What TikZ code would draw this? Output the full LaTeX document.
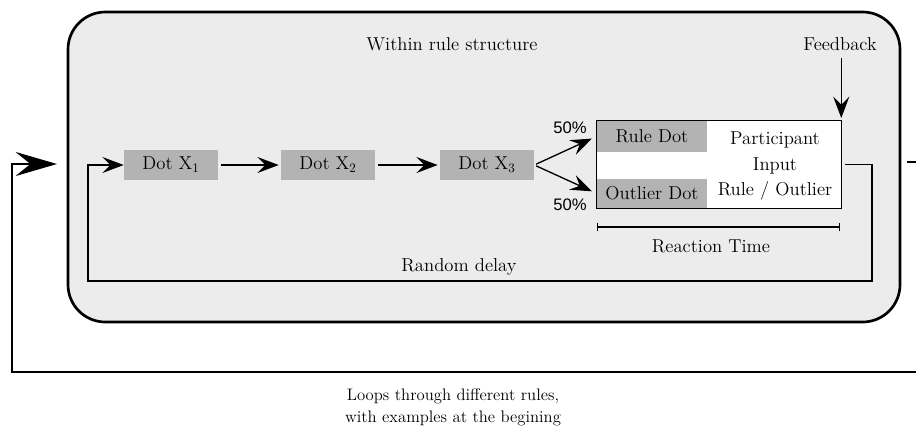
\documentclass[tikz,border=0pt]{standalone}
\usepackage{fontspec}
\newfontfamily\pctfont{Liberation Sans}
\usetikzlibrary{positioning, arrows.meta}

\definecolor{panelgray}{RGB}{236,236,236}
\definecolor{dotgray}{RGB}{179,179,179}

\tikzset{
  txt/.style={font=\fontsize{14}{19}\selectfont, inner sep=0pt},
  dotbox/.style={txt, fill=dotgray,
    minimum width=70.5pt, minimum height=23pt},
  flow/.style={-{Stealth[length=16pt, width=12pt, inset=6pt]},
    line width=1pt},
  thin/.style={line width=0.8pt},
}

\begin{document}
\begin{tikzpicture}[x=0.75pt, y=-0.75pt]

    \clip (0,0) rectangle (916,426);

    % outer panel
    \node[rectangle, draw, line width=2pt, fill=panelgray,
    rounded corners=28pt,
    minimum width=624pt,
    minimum height=232.5pt] (panel) at (484,167) {};

    \node[txt] (title) at (452,44) {Within rule structure};

    % dots
    \node[dotbox] (x1) at (171,165) {Dot X\textsubscript{1}};
    \node[dotbox] (x2) at (328,165) {Dot X\textsubscript{2}};
    \node[dotbox] (x3) at (487,165) {Dot X\textsubscript{3}};

    \draw[flow, shorten <=2pt, shorten >=1.5pt] (x1)--(x2);
    \draw[flow, shorten <=2pt, shorten >=1.5pt] (x2)--(x3);

    % response box
    \node[rectangle, fill=white,
    minimum width=183pt,
    minimum height=65.25pt,
    inner sep=0pt] (inbox) at (719,164.5) {};

    \node[dotbox,
    minimum width=82.5pt,
    anchor=north west] (rule) at (inbox.north west) {Rule Dot};

    \node[dotbox,
    minimum width=82.5pt,
    minimum height=21.75pt,
    anchor=south west] (outlier) at (inbox.south west) {Outlier Dot};

    \draw[thin] (inbox.north west) rectangle (inbox.south east);

    \node[txt, align=center] (input) at (775,166)
      {Participant\\Input\\Rule / Outlier};

    \draw[flow, shorten <=1.5pt, shorten >=4pt] (x3.east)--(rule.west);
    \draw[flow, shorten <=1.5pt, shorten >=4pt] (x3.east)--(outlier.west);

    \node[font=\pctfont\fontsize{12.5}{14}\selectfont, inner sep=0pt]
      (prule) at (570,128) {50\%};
    \node[font=\pctfont\fontsize{12.5}{14}\selectfont, inner sep=0pt]
      (pout) at (570,205) {50\%};

    % feedback
    \node[txt] (fb) at (840,44) {Feedback};
    \draw[flow, shorten <=5pt, shorten >=2pt] (fb.south -| inbox.north east)--(inbox.north east);

    % reaction time
    \coordinate (rtl) at (597,227);
    \coordinate (rtr) at (840,227);
    \draw[thin, |-|, >={Bar[width=12pt]}] (rtl)--(rtr);
    \node[txt] (rt) at (711,246) {Reaction Time};

    % random delay loop
    \coordinate (dr) at (872,281);
    \coordinate (dl) at (88,281);
    \draw[thin, -{Stealth[length=16pt, width=12pt, inset=6pt]}]
      ([xshift=3pt]inbox.east) -| (dr) -- (dl) |- (x1.west);
    \node[txt] (delay) at (459,267) {Random delay};

    % loop over rules
    \coordinate (outr) at (907,162);
    \coordinate (outbr) at (930,372);
    \coordinate (outbl) at (12,372);
    \coordinate (inarr) at (57,164);
    \draw[line width=1.5pt] (outr) -| (outbr) -- (outbl) |- ([xshift=-10pt]inarr);
    \draw[line width=1.5pt, -{Stealth[length=31pt, width=18pt, inset=11pt]}]
      ([xshift=-12pt]inarr) -- (inarr);

    \node[txt, font=\fontsize{12.5}{16.5}\selectfont, align=center] (loops) at (453,407)
      {Loops through different rules,\\with examples at the begining};

\end{tikzpicture}
\end{document}
